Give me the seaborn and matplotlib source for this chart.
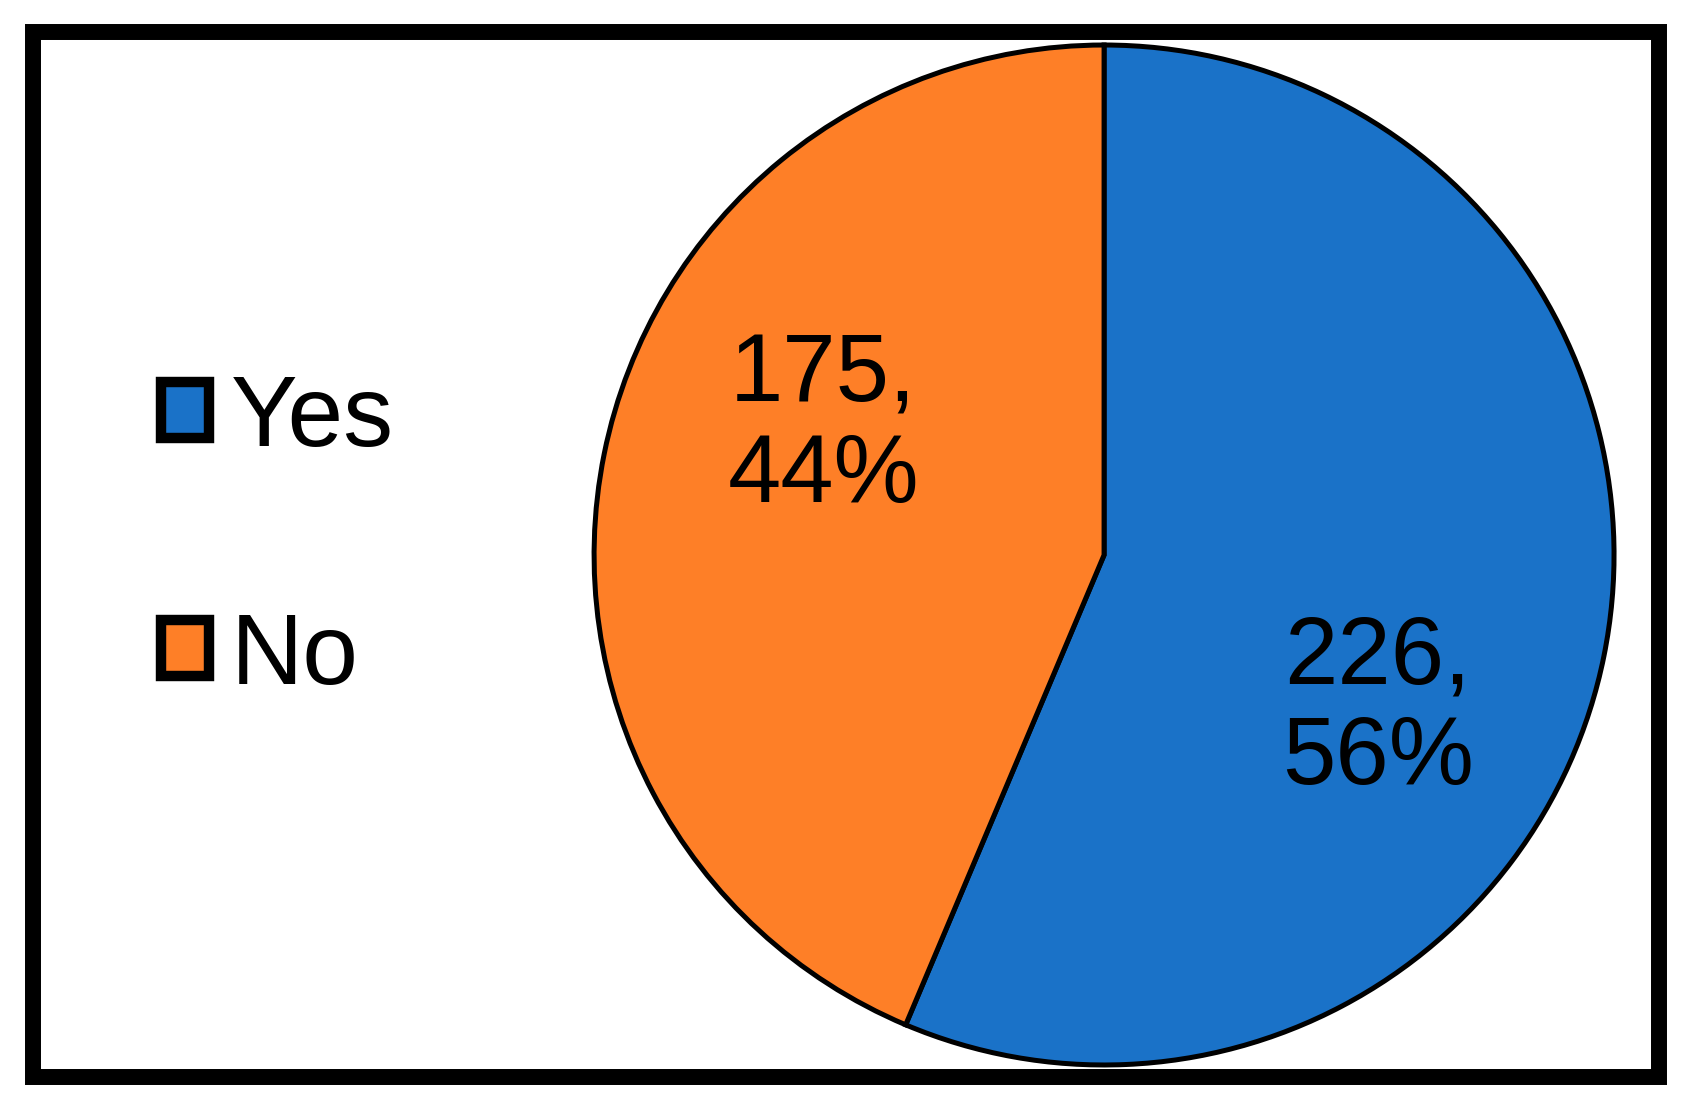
import numpy as np
import matplotlib
matplotlib.use('Agg')
import matplotlib.pyplot as plt
import seaborn as sns
from matplotlib.patches import Patch, Rectangle

# データ
labels = ['Yes', 'No']
counts = [226, 175]
colors = ['#1a72c8', '#fe7f27']

sns.set_style('white')
plt.rcParams['font.family'] = ['Liberation Sans', 'DejaVu Sans']

fig = plt.figure(figsize=(16.94, 11.13), dpi=100)
ax = fig.add_axes([0.3507, 0.0431, 0.6021, 0.9165])

total = sum(counts)
wedges, texts = ax.pie(counts, colors=colors, startangle=90, counterclock=False,
                       wedgeprops=dict(edgecolor='black', linewidth=3.6))
ax.set_xlim(-1, 1)
ax.set_ylim(-1, 1)
ax.set_aspect('equal')
ax.axis('off')

# ラベル（Excel風の位置にずらす）
offsets = [-17, -14]
for w, c, off in zip(wedges, counts, offsets):
    mid = np.deg2rad((w.theta1 + w.theta2) / 2 + off)
    r = 0.61
    ax.text(r * np.cos(mid), r * np.sin(mid) - 0.01, f'{c},\n{round(c / total * 100)}%',
            ha='center', va='center', fontsize=69, linespacing=1.15, color='black')

# 凡例
handles = [Patch(facecolor=col, edgecolor='black', linewidth=7.5) for col in colors]
fig.legend(handles, labels, loc='center left', bbox_to_anchor=(0.095, 0.516),
           frameon=False, fontsize=72, handlelength=0.48, handleheight=0.48,
           handletextpad=0.22, labelspacing=1.44, borderpad=0, borderaxespad=0,
           labelcolor='black')

# 外枠
fig.patches.append(Rectangle((0.0195, 0.0323), 0.9598, 0.939, transform=fig.transFigure,
                             fill=False, edgecolor='black', linewidth=11.5))

fig.savefig('out.png', dpi=100)
